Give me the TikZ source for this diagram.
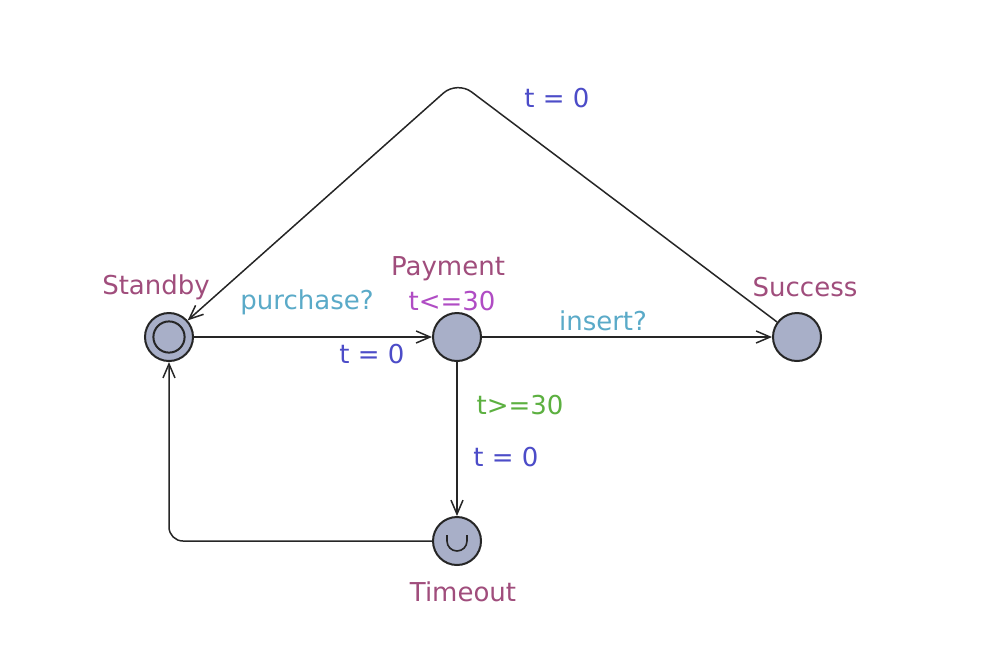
\documentclass[tikz,border=0pt]{standalone}
\usepackage{fontspec}
\setmainfont{DejaVu Sans}
\usetikzlibrary{arrows.meta}
\definecolor{locname}{HTML}{A04D7C}
\definecolor{sync}{HTML}{5AAAC8}
\definecolor{assign}{HTML}{4C4CC8}
\definecolor{inv}{HTML}{B04CC4}
\definecolor{guard}{HTML}{5CB040}
\definecolor{locfill}{HTML}{A8AFC8}
\tikzset{
  loc/.style={circle,draw=black!85,line width=1pt,fill=locfill,minimum size=24pt,inner sep=0pt},
  lbl/.style={font=\fontsize{13}{15}\selectfont,inner sep=0pt},
  edge/.style={draw=black!85,line width=0.75pt,-{Straight Barb[length=7pt,width=6pt]}},
  plain/.style={draw=black!85,line width=0.75pt}
}
\begin{document}
\begin{tikzpicture}[x=0.5pt,y=-0.5pt]
\useasboundingbox (0,0) rectangle (1006,650);
\fill[white] (0,0) rectangle (1006,650);
% locations
\node[loc] (standby) at (169,337) {};
\draw[line width=1pt,black!85] (standby.center) circle (7.8pt);
\node[loc] (payment) at (457,337) {};
\node[loc] (success) at (797,337) {};
\node[loc] (timeout) at (457,541) {};
\draw[line width=0.8pt,black!85] ([xshift=-5pt,yshift=3pt]timeout.center) -- ([xshift=-5pt]timeout.center) arc (180:360:5pt) -- ([xshift=5pt,yshift=3pt]timeout.center);
% location names
\node[lbl,text=locname] (nstandby) at (156,287) {Standby};
\node[lbl,text=locname] (npayment) at (448,269) {Payment};
\node[lbl,text=inv] (ipayment) at (452,301) {t<=30};
\node[lbl,text=locname] (nsuccess) at (805,287) {Success};
\node[lbl,text=locname] (ntimeout) at (463,592) {Timeout};
% waypoints
\coordinate (top) at (457,81);
\coordinate (bl) at (169,541);
% edges
\draw[edge] (standby) -- (payment);
\draw[edge] (payment) -- (success);
\draw[edge] (payment) -- (timeout);
\draw[edge,rounded corners=7pt] (timeout) -- (bl) -- (standby);
\draw[edge,rounded corners=9pt] (success) -- (top) -- (standby);
% edge labels
\node[lbl,text=sync] (l1) at (307,302) {purchase?};
\node[lbl,text=assign] (l2) at (372,354) {t = 0};
\node[lbl,text=sync] (l3) at (603,321) {insert?};
\node[lbl,text=guard] (l4) at (520,405) {t>=30};
\node[lbl,text=assign] (l5) at (506,457) {t = 0};
\node[lbl,text=assign] (l6) at (557,98) {t = 0};
\end{tikzpicture}
\end{document}
